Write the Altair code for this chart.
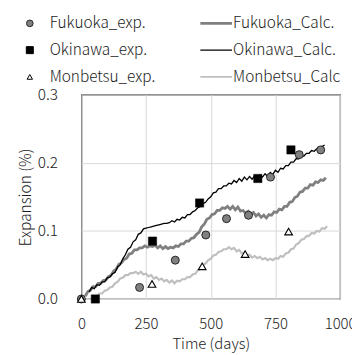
import altair as alt
import pandas as pd

# ---------------- data ----------------
fuk_exp_day = [0, 225, 363, 481, 561, 646, 731, 842, 925]
fuk_exp_val = [0.000, 0.017, 0.057, 0.094, 0.118, 0.123, 0.179, 0.212, 0.219]

oki_exp_day = [54, 275, 457, 682, 810]
oki_exp_val = [0.000, 0.085, 0.141, 0.177, 0.219]

mon_exp_day = [0, 273, 467, 633, 801]
mon_exp_val = [0.000, 0.022, 0.048, 0.066, 0.099]

oki_calc_day = [30, 40, 50, 60, 70, 80, 90, 100, 110, 120, 130, 140, 150, 160, 170, 180, 190, 200,
                210, 220, 230, 240, 250, 260, 270, 280, 290, 300, 310, 320, 330, 340, 350, 360, 370,
                380, 390, 400, 410, 420, 430, 440, 450, 460, 470, 480, 490, 500, 510, 520, 530, 540,
                550, 560, 570, 580, 590, 600, 610, 620, 630, 640, 650, 660, 670, 680, 690, 700, 710,
                720, 730, 740, 750, 760, 770, 780, 790, 800, 810, 820, 830, 840, 850, 860, 870, 880,
                890, 900, 910, 920, 930, 940]
oki_calc_val = [0.010, 0.017, 0.015, 0.021, 0.020, 0.025, 0.025, 0.031, 0.032, 0.037, 0.039, 0.047,
                0.050, 0.059, 0.065, 0.073, 0.076, 0.084, 0.087, 0.095, 0.097, 0.103, 0.104, 0.105,
                0.106, 0.107, 0.108, 0.109, 0.110, 0.111, 0.111, 0.112, 0.115, 0.113, 0.117, 0.116,
                0.120, 0.119, 0.124, 0.124, 0.128, 0.130, 0.134, 0.136, 0.140, 0.142, 0.147, 0.150,
                0.156, 0.157, 0.162, 0.162, 0.166, 0.166, 0.170, 0.169, 0.174, 0.171, 0.177, 0.173,
                0.179, 0.175, 0.180, 0.176, 0.181, 0.177, 0.182, 0.179, 0.184, 0.180, 0.186, 0.183,
                0.189, 0.186, 0.192, 0.191, 0.196, 0.196, 0.201, 0.201, 0.206, 0.206, 0.210, 0.210,
                0.214, 0.214, 0.218, 0.217, 0.221, 0.221, 0.224, 0.226]

fuk_calc_day = [15, 25, 35, 45, 55, 65, 75, 85, 95, 105, 115, 125, 135, 145, 155, 165, 175, 185,
                195, 205, 215, 225, 235, 245, 255, 265, 275, 285, 295, 305, 315, 325, 335, 345, 355,
                365, 375, 385, 395, 405, 415, 425, 435, 445, 455, 465, 475, 485, 495, 505, 515, 525,
                535, 545, 555, 565, 575, 585, 595, 605, 615, 625, 635, 645, 655, 665, 675, 685, 695,
                705, 715, 725, 735, 745, 755, 765, 775, 785, 795, 805, 815, 825, 835, 845, 855, 865,
                875, 885, 895, 905, 915, 925, 935, 945]
fuk_calc_val = [0.004, 0.011, 0.013, 0.018, 0.018, 0.023, 0.023, 0.027, 0.028, 0.033, 0.035, 0.041,
                0.044, 0.051, 0.053, 0.058, 0.060, 0.066, 0.067, 0.072, 0.072, 0.075, 0.075, 0.078,
                0.076, 0.078, 0.077, 0.079, 0.075, 0.078, 0.074, 0.077, 0.074, 0.076, 0.075, 0.078,
                0.077, 0.081, 0.081, 0.085, 0.085, 0.089, 0.090, 0.095, 0.098, 0.106, 0.110, 0.117,
                0.119, 0.124, 0.125, 0.130, 0.130, 0.134, 0.133, 0.136, 0.132, 0.136, 0.131, 0.135,
                0.129, 0.130, 0.126, 0.129, 0.124, 0.127, 0.122, 0.125, 0.120, 0.123, 0.119, 0.124,
                0.123, 0.128, 0.127, 0.132, 0.131, 0.136, 0.136, 0.142, 0.143, 0.149, 0.151, 0.157,
                0.158, 0.163, 0.163, 0.168, 0.167, 0.172, 0.171, 0.175, 0.174, 0.178]

mon_calc_day = [40, 50, 60, 70, 80, 90, 100, 110, 120, 130, 140, 150, 160, 170, 180, 190, 200, 210,
                220, 230, 240, 250, 260, 270, 280, 290, 300, 310, 320, 330, 340, 350, 360, 370, 380,
                390, 400, 410, 420, 430, 440, 450, 460, 470, 480, 490, 500, 510, 520, 530, 540, 550,
                560, 570, 580, 590, 600, 610, 620, 630, 640, 650, 660, 670, 680, 690, 700, 710, 720,
                730, 740, 750, 760, 770, 780, 790, 800, 810, 820, 830, 840, 850, 860, 870, 880, 890,
                900, 910, 920, 930, 940, 950]
mon_calc_val = [0.001, 0.004, 0.004, 0.008, 0.008, 0.012, 0.013, 0.017, 0.018, 0.023, 0.025, 0.030,
                0.031, 0.035, 0.035, 0.038, 0.038, 0.040, 0.037, 0.040, 0.036, 0.037, 0.033, 0.035,
                0.030, 0.032, 0.028, 0.030, 0.026, 0.028, 0.024, 0.027, 0.023, 0.027, 0.026, 0.029,
                0.029, 0.032, 0.032, 0.036, 0.037, 0.042, 0.044, 0.050, 0.052, 0.057, 0.059, 0.064,
                0.065, 0.069, 0.070, 0.073, 0.073, 0.076, 0.073, 0.075, 0.070, 0.072, 0.067, 0.068,
                0.064, 0.065, 0.061, 0.063, 0.060, 0.062, 0.058, 0.060, 0.057, 0.059, 0.057, 0.060,
                0.059, 0.063, 0.062, 0.067, 0.068, 0.073, 0.074, 0.080, 0.082, 0.087, 0.088, 0.092,
                0.093, 0.097, 0.096, 0.100, 0.099, 0.104, 0.103, 0.107]

legend_exp_labels = ["Fukuoka_exp.", "Okinawa_exp.", "Monbetsu_exp."]
legend_calc_labels = ["Fukuoka_Calc.", "Okinawa_Calc.", "Monbetsu_Calc"]

x_ticks = [0, 250, 500, 750, 1000]
y_ticks = [0.0, 0.1, 0.2, 0.3]

FONT = "Noto Sans CJK JP"
FW = 300
TXT = "#1a1a1a"

# ---------------- scales ----------------
xs = alt.Scale(domain=[0, 1000], nice=False, zero=False)
ys = alt.Scale(domain=[0, 0.3], nice=False, zero=False)

x_axis = alt.Axis(values=x_ticks, format="d", title="Time  (days)", grid=True, gridColor="#d9d9d9",
                  ticks=False, domain=False, labelPadding=18, titlePadding=5,
                  labelFontSize=15, titleFontSize=15, labelFont=FONT, titleFont=FONT,
                  labelFontWeight=FW, titleFontWeight=FW,
                  labelColor=TXT, titleColor=TXT, labelFlush=False, labelOverlap=False)
y_axis = alt.Axis(values=y_ticks, format=".1f", title="Expansion (%)", grid=True,
                  gridColor="#d9d9d9", ticks=False, domain=False, labelPadding=24,
                  titlePadding=4, labelFontSize=15.5, titleFontSize=15.5, labelFont=FONT,
                  titleFont=FONT, labelFontWeight=FW, titleFontWeight=FW,
                  labelColor=TXT, titleColor=TXT)

def line_df(d, v):
    return pd.DataFrame({"day": d, "val": v})

base_x = alt.X("day:Q", scale=xs, axis=x_axis)
base_y = alt.Y("val:Q", scale=ys, axis=y_axis)

mon_line = alt.Chart(line_df(mon_calc_day, mon_calc_val)).mark_line(
    color="#bfbfbf", strokeWidth=2.2).encode(x=base_x, y=base_y)
fuk_line = alt.Chart(line_df(fuk_calc_day, fuk_calc_val)).mark_line(
    color="#808080", strokeWidth=2.8).encode(x="day:Q", y="val:Q")
oki_line = alt.Chart(line_df(oki_calc_day, oki_calc_val)).mark_line(
    color="#000000", strokeWidth=1.3).encode(x="day:Q", y="val:Q")

fuk_pts = alt.Chart(line_df(fuk_exp_day, fuk_exp_val)).mark_point(
    shape="circle", filled=True, fill="#808080", stroke="#262626", strokeWidth=1,
    size=65, opacity=1).encode(x="day:Q", y="val:Q")
oki_pts = alt.Chart(line_df(oki_exp_day, oki_exp_val)).mark_point(
    shape="square", filled=True, fill="#000000", stroke="#000000", strokeWidth=0.5,
    size=70, opacity=1).encode(x="day:Q", y="val:Q")
mon_pts = alt.Chart(line_df(mon_exp_day, mon_exp_val)).mark_point(
    shape="triangle-up", filled=True, fill="#ffffff", stroke="#000000", strokeWidth=1.1,
    size=60, opacity=1).encode(x="day:Q", y="val:Q")

# ---------------- legend (manual, above plot) ----------------
rows = [-72, -45, -18]
leg_layers = []
exp_styles = [
    dict(shape="circle", fill="#808080", stroke="#262626", size=45),
    dict(shape="square", fill="#000000", stroke="#000000", size=50),
    dict(shape="triangle-up", fill="#ffffff", stroke="#000000", size=30),
]
line_styles = [("#808080", 2.8), ("#000000", 1.3), ("#bfbfbf", 1.8)]
leg_df = pd.DataFrame({"k": [0]})
for i, lab in enumerate(legend_exp_labels):
    st = exp_styles[i]
    leg_layers.append(alt.Chart(leg_df).mark_point(
        shape=st["shape"], filled=True, fill=st["fill"], stroke=st["stroke"], strokeWidth=1,
        size=st["size"], opacity=1).encode(x=alt.value(-52), y=alt.value(rows[i])))
    leg_layers.append(alt.Chart(leg_df).mark_text(
        text=lab, align="left", baseline="middle", font=FONT, fontSize=15.5, fontWeight=FW,
        color=TXT).encode(x=alt.value(-32), y=alt.value(rows[i])))
for i, lab in enumerate(legend_calc_labels):
    c, w = line_styles[i]
    leg_layers.append(alt.Chart(leg_df).mark_rule(color=c, strokeWidth=w).encode(
        x=alt.value(120), x2=alt.value(152), y=alt.value(rows[i])))
    leg_layers.append(alt.Chart(leg_df).mark_text(
        text=lab, align="left", baseline="middle", font=FONT, fontSize=15.5, fontWeight=FW,
        color=TXT).encode(x=alt.value(153), y=alt.value(rows[i])))

chart = alt.layer(mon_line, fuk_line, oki_line, fuk_pts, oki_pts, mon_pts, *leg_layers).properties(
    width=261, height=206,
    autosize=alt.AutoSizeParams(type="none"),
    padding={"left": 74, "top": 86, "right": 12, "bottom": 55},
    background="#ffffff",
).configure_view(stroke="#000000", strokeWidth=1.2)

chart.save("out.html", embed_options={"renderer": "svg", "actions": False})
